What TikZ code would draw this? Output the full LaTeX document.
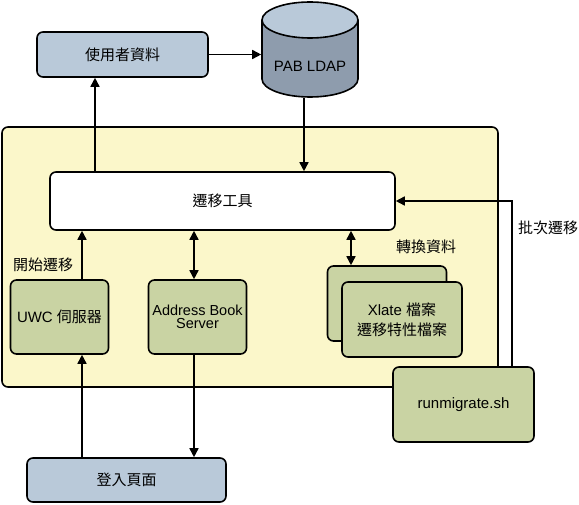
\documentclass[tikz,border=0pt]{standalone}
\usepackage{fontspec}
\setmainfont{Liberation Sans}
\newfontfamily\cjk{Noto Sans CJK TC}
\usetikzlibrary{arrows.meta}
\definecolor{boxblue}{HTML}{B9C9D9}
\definecolor{cylbody}{HTML}{8E9CAD}
\definecolor{boxgreen}{HTML}{C9D3A3}
\definecolor{panel}{HTML}{FBF7CA}
\begin{document}
\begin{tikzpicture}[x=1pt,y=-1pt,
  line width=1.6pt,
  every node/.style={font=\fontsize{15}{15}\selectfont},
  box/.style={draw=black,rounded corners=6pt,align=center,inner sep=0pt},
  bluebox/.style={box,fill=boxblue},
  greenbox/.style={box,fill=boxgreen},
  arr/.style={-{Triangle[length=9pt,width=9pt]}},
  darr/.style={{Triangle[length=9pt,width=9pt]}-{Triangle[length=9pt,width=9pt]}},
  lbl/.style={inner sep=0pt}
]
\useasboundingbox (0,0) rectangle (579,505);
% container
\node[box,fill=panel,minimum width=496pt,minimum height=260pt] (panel) at (250,257) {};
% top boxes
\node[bluebox,minimum width=171pt,minimum height=45pt] (user) at (122.5,54.5) {\cjk 使用者資料};
% cylinder
\fill[cylbody] (262,20) -- (262,79) arc[start angle=180,end angle=360,x radius=48pt,y radius=18pt] -- (358,20) -- cycle;
\draw (262,20) -- (262,79) arc[start angle=180,end angle=360,x radius=48pt,y radius=18pt] -- (358,20);
\draw[fill=boxblue] (310,20) ellipse[x radius=48pt,y radius=18pt];
\node[minimum width=96pt,minimum height=96pt,inner sep=0pt] (pab) at (310,49) {};
\node[lbl] (pabtxt) at (310,66) {PAB LDAP};
% tool
\node[box,fill=white,minimum width=345pt,minimum height=58pt] (tool) at (222.5,201) {\cjk 遷移工具};
% inner boxes
\node[greenbox,minimum width=98pt,minimum height=74pt] (uwc) at (59.5,317) {UWC {\cjk 伺服器}};
\node[greenbox,minimum width=98pt,minimum height=74pt,font=\fontsize{14.5}{13}\selectfont] (abs) at (197.5,317) {Address Book\\Server};
\node[greenbox,minimum width=119pt,minimum height=75pt] (fileback) at (387,303.5) {};
\node[greenbox,minimum width=120pt,minimum height=75pt,font=\fontsize{15}{20}\selectfont] (file) at (402,319.5) {Xlate {\cjk 檔案}\\{\cjk 遷移特性檔案}};
\node[greenbox,minimum width=141pt,minimum height=75pt] (run) at (463.5,404.5) {runmigrate.sh};
\node[bluebox,minimum width=199pt,minimum height=44pt] (login) at (126.5,480) {\cjk 登入頁面};
% labels
\node[lbl] (lstart) at (43,265) {\cjk 開始遷移};
\node[lbl] (lconv) at (426,247) {\cjk 轉換資料};
\node[lbl] (lbatch) at (548,228) {\cjk 批次遷移};
% connectors
\draw[arr] (user.east) -- (user.east -| pab.west);
\draw[arr] (pab.south -| 304,0) -- (tool.north -| 304,0);
\draw[arr] (tool.north -| 95,0) -- (user.south -| 95,0);
\draw[arr] (uwc.north -| 82,0) -- (tool.south -| 82,0);
\draw[darr] (tool.south -| 194,0) -- (abs.north -| 194,0);
\draw[darr] (tool.south -| 351,0) -- (fileback.north -| 351,0);
\draw[arr] (run.north -| 512,0) |- (tool.east);
\draw[arr] (login.north -| 82,0) -- (uwc.south -| 82,0);
\draw[arr] (abs.south -| 194,0) -- (login.north -| 194,0);
\end{tikzpicture}
\end{document}
